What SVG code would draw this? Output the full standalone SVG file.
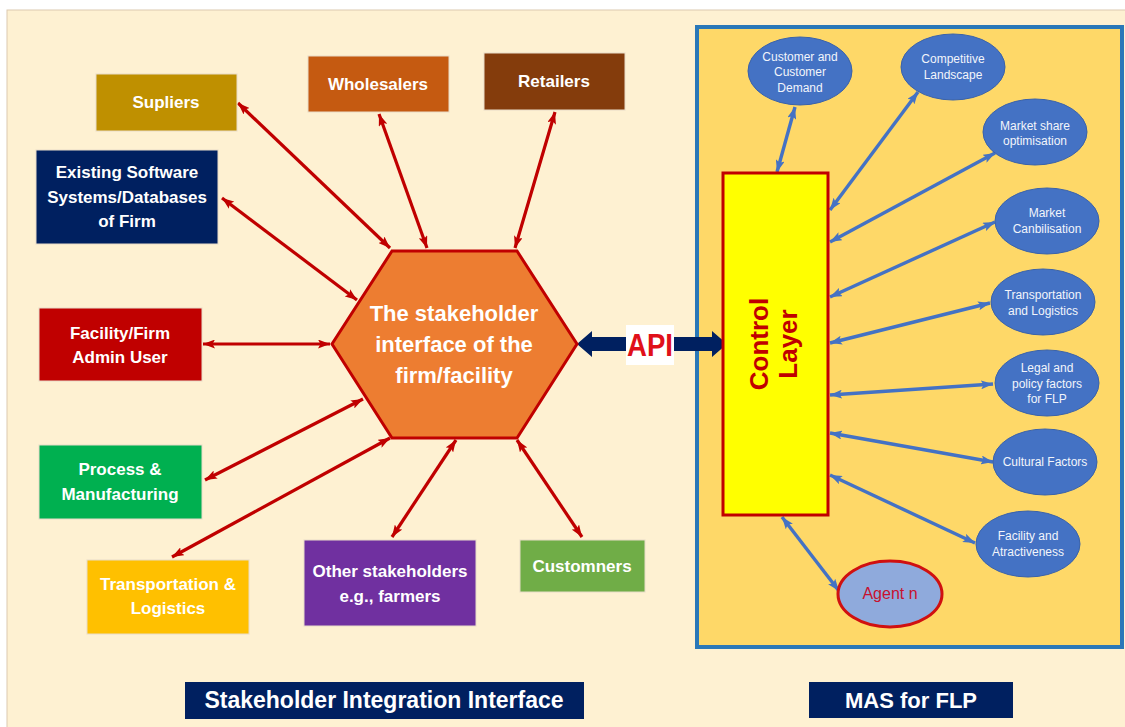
<svg xmlns="http://www.w3.org/2000/svg" width="1125" height="727" viewBox="0 0 1125 727">
<defs>
<marker id="ar" viewBox="0 0 12 9" refX="12" refY="4.5" markerWidth="12" markerHeight="9" markerUnits="userSpaceOnUse" orient="auto-start-reverse"><path d="M0,0 L12,4.5 L0,9 L2.5,4.5 z" fill="#C00000"/></marker>
<marker id="ab" viewBox="0 0 12 9" refX="12" refY="4.5" markerWidth="12" markerHeight="9" markerUnits="userSpaceOnUse" orient="auto-start-reverse"><path d="M0,0 L12,4.5 L0,9 L2.5,4.5 z" fill="#4472C4"/></marker>
<style>
.box{stroke:#e8dcc8;stroke-width:1}
.bt{font-family:"Liberation Sans",Arial,sans-serif;font-weight:bold;font-size:17px;fill:#ffffff;text-anchor:middle}
.et{font-family:"Liberation Sans",Arial,sans-serif;font-size:12px;fill:#f2f5fb;text-anchor:middle}
.ell{fill:#4472C4;stroke:#3a62aa;stroke-width:1}
.rl{stroke:#C00000;stroke-width:3.2;fill:none;marker-start:url(#ar);marker-end:url(#ar)}
.bl{stroke:#4472C4;stroke-width:3.4;fill:none;marker-start:url(#ab);marker-end:url(#ab)}
</style>
</defs>
<rect x="0" y="0" width="1125" height="727" fill="#ffffff"/>
<rect x="7" y="10" width="1125" height="730" fill="#FEF1D2" stroke="#dcc9b0" stroke-width="1"/>
<rect id="mas-panel" x="697" y="27" width="425" height="620" fill="#FED868" stroke="#2A78B8" stroke-width="4"/>

<g id="connectors">
<line class="rl" x1="238" y1="103" x2="390" y2="248"/>
<line class="rl" x1="222" y1="198" x2="357" y2="300"/>
<line class="rl" x1="379" y1="114" x2="427" y2="248"/>
<line class="rl" x1="555" y1="112" x2="515" y2="248"/>
<line class="rl" x1="203" y1="344" x2="330" y2="344"/>
<line class="rl" x1="205" y1="480" x2="363" y2="399"/>
<line class="rl" x1="172" y1="557" x2="390" y2="438"/>
<line class="rl" x1="456" y1="440" x2="392" y2="537"/>
<line class="rl" x1="517" y1="440" x2="582" y2="537"/>
<line class="bl" x1="777" y1="172" x2="795" y2="107"/>
<line class="bl" x1="830" y1="210" x2="918" y2="92"/>
<line class="bl" x1="830" y1="242" x2="995" y2="153"/>
<line class="bl" x1="830" y1="297" x2="995" y2="222"/>
<line class="bl" x1="830" y1="343" x2="990" y2="303"/>
<line class="bl" x1="830" y1="395" x2="993" y2="384"/>
<line class="bl" x1="830" y1="433" x2="993" y2="462"/>
<line class="bl" x1="830" y1="475" x2="975" y2="543"/>
<line class="bl" x1="782" y1="517" x2="839" y2="591"/>
<polygon id="api-arrow" points="577,344 592,331 592,337 712,337 712,331 727,344 712,357 712,351 592,351 592,357" fill="#002060"/>
</g>

<g id="supliers"><rect class="box" x="96" y="74" width="141" height="57" fill="#BF9000"/><text class="bt" x="166" y="108">Supliers</text></g>
<g id="existing"><rect class="box" x="36" y="150" width="182" height="94" fill="#002060"/><text class="bt" x="127" y="178">Existing Software</text><text class="bt" x="127" y="203">Systems/Databases</text><text class="bt" x="127" y="227">of Firm</text></g>
<g id="wholesalers"><rect class="box" x="308" y="56" width="141" height="56" fill="#C55A11"/><text class="bt" x="378" y="90">Wholesalers</text></g>
<g id="retailers"><rect class="box" x="484" y="53" width="141" height="57" fill="#843C0C"/><text class="bt" x="554" y="87">Retailers</text></g>
<g id="admin"><rect class="box" x="39" y="308" width="163" height="73" fill="#C00000"/><text class="bt" x="120" y="339">Facility/Firm</text><text class="bt" x="120" y="363">Admin User</text></g>
<g id="process"><rect class="box" x="39" y="445" width="163" height="74" fill="#00B050"/><text class="bt" x="120" y="475">Process &amp;</text><text class="bt" x="120" y="500">Manufacturing</text></g>
<g id="transport"><rect class="box" x="87" y="560" width="162" height="74" fill="#FFC000"/><text class="bt" x="168" y="590">Transportation &amp;</text><text class="bt" x="168" y="614">Logistics</text></g>
<g id="other"><rect class="box" x="304" y="540" width="172" height="86" fill="#7030A0"/><text class="bt" x="390" y="577">Other stakeholders</text><text class="bt" x="390" y="602">e.g., farmers</text></g>
<g id="customners"><rect class="box" x="520" y="540" width="125" height="52" fill="#70AD47"/><text class="bt" x="582" y="572">Customners</text></g>

<g id="hexagon">
<polygon points="392,251 517,251 577,344 517,438 392,438 332,344" fill="#ED7D31" stroke="#C00000" stroke-width="3"/>
<text class="bt" style="font-size:22px" x="454" y="321">The stakeholder</text>
<text class="bt" style="font-size:22px" x="454" y="352">interface of the</text>
<text class="bt" style="font-size:22px" x="454" y="383">firm/facility</text>
</g>

<g id="api">
<rect x="626" y="325" width="48" height="40" fill="#ffffff"/>
<text x="650" y="356" font-family="Liberation Sans,Arial,sans-serif" font-weight="bold" font-size="32" fill="#E0101A" text-anchor="middle" textLength="46" lengthAdjust="spacingAndGlyphs">API</text>
</g>

<g id="control-layer">
<rect x="723" y="173" width="105" height="342" fill="#FFFF00" stroke="#C00000" stroke-width="3"/>
<text class="bt" style="font-size:26px;fill:#C00000" transform="translate(768,344) rotate(-90)">Control</text>
<text class="bt" style="font-size:26px;fill:#C00000" transform="translate(797,344) rotate(-90)">Layer</text>
</g>

<g id="customer-demand"><ellipse class="ell" cx="800" cy="71" rx="52" ry="34"/><text class="et" x="800" y="61">Customer and</text><text class="et" x="800" y="76">Customer</text><text class="et" x="800" y="92">Demand</text></g>
<g id="competitive"><ellipse class="ell" cx="953" cy="67" rx="52" ry="33"/><text class="et" x="953" y="63">Competitive</text><text class="et" x="953" y="79">Landscape</text></g>
<g id="market-share"><ellipse class="ell" cx="1035" cy="132" rx="52" ry="33"/><text class="et" x="1035" y="130">Market share</text><text class="et" x="1035" y="145">optimisation</text></g>
<g id="canbilisation"><ellipse class="ell" cx="1047" cy="221" rx="52" ry="33"/><text class="et" x="1047" y="217">Market</text><text class="et" x="1047" y="233">Canbilisation</text></g>
<g id="transport-logistics"><ellipse class="ell" cx="1043" cy="302" rx="52" ry="33"/><text class="et" x="1043" y="299">Transportation</text><text class="et" x="1043" y="315">and Logistics</text></g>
<g id="legal"><ellipse class="ell" cx="1047" cy="383" rx="52" ry="33"/><text class="et" x="1047" y="372">Legal and</text><text class="et" x="1047" y="388">policy factors</text><text class="et" x="1047" y="403">for FLP</text></g>
<g id="cultural"><ellipse class="ell" cx="1045" cy="462" rx="52" ry="33"/><text class="et" x="1045" y="466">Cultural Factors</text></g>
<g id="facility-attr"><ellipse class="ell" cx="1028" cy="544" rx="52" ry="33"/><text class="et" x="1028" y="540">Facility and</text><text class="et" x="1028" y="556">Atractiveness</text></g>
<g id="agent-n"><ellipse cx="890" cy="594" rx="52" ry="33" fill="#8FAADC" stroke="#D01010" stroke-width="3"/><text class="et" style="font-size:16px;fill:#C8102E" x="890" y="599">Agent n</text></g>

<g id="sii-label"><rect x="185" y="682" width="399" height="37" fill="#002060"/><text class="bt" style="font-size:23px" x="384" y="708">Stakeholder Integration Interface</text></g>
<g id="mas-label"><rect x="809" y="682" width="204" height="36" fill="#002060"/><text class="bt" style="font-size:22px" x="911" y="708">MAS for FLP</text></g>
</svg>
